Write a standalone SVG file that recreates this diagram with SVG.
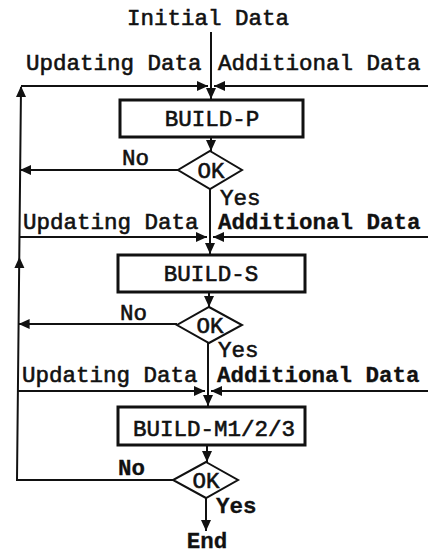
<svg xmlns="http://www.w3.org/2000/svg" width="432" height="554" viewBox="0 0 432 554">
<style>
text{font-family:"Liberation Mono","DejaVu Sans Mono",monospace;font-size:22.5px;fill:#111;stroke:#111;stroke-width:0.6}
.c{text-anchor:middle}
.b{font-weight:bold;stroke-width:0.3}
.ln{fill:none;stroke:#111;stroke-width:2}
.box{fill:#fff;stroke:#111;stroke-width:3}
.dia{fill:#fff;stroke:#111;stroke-width:2}
</style>
<defs>
<marker id="ah" markerUnits="userSpaceOnUse" markerWidth="12" markerHeight="10" refX="11" refY="5" orient="auto">
<path d="M0,0 L11,5 L0,10 Z" fill="#111"/>
</marker>
</defs>
<rect width="432" height="554" fill="#fff"/>
<g id="connectors">
<line class="ln" x1="211" y1="32" x2="211" y2="99" marker-end="url(#ah)"/>
<line class="ln" x1="21" y1="86" x2="208" y2="86" marker-end="url(#ah)"/>
<line class="ln" x1="428" y1="86" x2="214" y2="86" marker-end="url(#ah)"/>
<line class="ln" x1="211" y1="137" x2="211" y2="151" marker-end="url(#ah)"/>
<line class="ln" x1="178" y1="170" x2="20" y2="170" marker-end="url(#ah)"/>
<line class="ln" x1="210" y1="189" x2="210" y2="254" marker-end="url(#ah)"/>
<line class="ln" x1="19.5" y1="237" x2="207" y2="237" marker-end="url(#ah)"/>
<line class="ln" x1="428" y1="237" x2="213" y2="237" marker-end="url(#ah)"/>
<line class="ln" x1="209" y1="292" x2="209" y2="307" marker-end="url(#ah)"/>
<line class="ln" x1="177" y1="324" x2="18.6" y2="324" marker-end="url(#ah)"/>
<line class="ln" x1="208" y1="343" x2="208" y2="406" marker-end="url(#ah)"/>
<line class="ln" x1="18" y1="391" x2="205" y2="391" marker-end="url(#ah)"/>
<line class="ln" x1="428" y1="391" x2="211" y2="391" marker-end="url(#ah)"/>
<line class="ln" x1="207" y1="445" x2="207" y2="462" marker-end="url(#ah)"/>
<path class="ln" d="M173,480 L17,480 L21,87"/>
<path d="M21,86 L16,97 L26,97 Z" fill="#111"/>
<path d="M19.4,257 L14.4,268 L24.4,268 Z" fill="#111"/>
<line class="ln" x1="206" y1="498" x2="206" y2="531" marker-end="url(#ah)"/>
</g>
<g id="labels">
<text class="c" x="208" y="25">Initial Data</text>
<text x="26" y="70">Updating Data</text>
<text x="218" y="70">Additional Data</text>
<text x="122" y="165">No</text>
<text x="220" y="205">Yes</text>
<text x="23" y="229">Updating Data</text>
<text x="218" y="229" class="b">Additional Data</text>
<text x="120" y="320">No</text>
<text x="218" y="357">Yes</text>
<text x="22" y="382">Updating Data</text>
<text x="217" y="382" class="b">Additional Data</text>
<text x="118" y="475" class="b">No</text>
<text x="216" y="513" class="b">Yes</text>
<text class="c b" x="207" y="548">End</text>
</g>
<g id="build-p">
<rect class="box" x="120" y="100" width="183" height="37"/>
<text class="c" x="212" y="126">BUILD-P</text>
</g>
<g id="ok1">
<polygon class="dia" points="210,151 242,170 210,189 178,170"/>
<text class="c" x="211" y="178">OK</text>
</g>
<g id="build-s">
<rect class="box" x="118" y="255" width="187" height="37"/>
<text class="c" x="211" y="281">BUILD-S</text>
</g>
<g id="ok2">
<polygon class="dia" points="209,307 242,325 209,343 177,325"/>
<text class="c" x="210" y="333">OK</text>
</g>
<g id="build-m">
<rect class="box" x="118" y="407" width="187" height="38"/>
<text class="c" x="214" y="436">BUILD-M1/2/3</text>
</g>
<g id="ok3">
<polygon class="dia" points="206,462 238,480 206,498 173,480"/>
<text class="c" x="206" y="488">OK</text>
</g>
</svg>
